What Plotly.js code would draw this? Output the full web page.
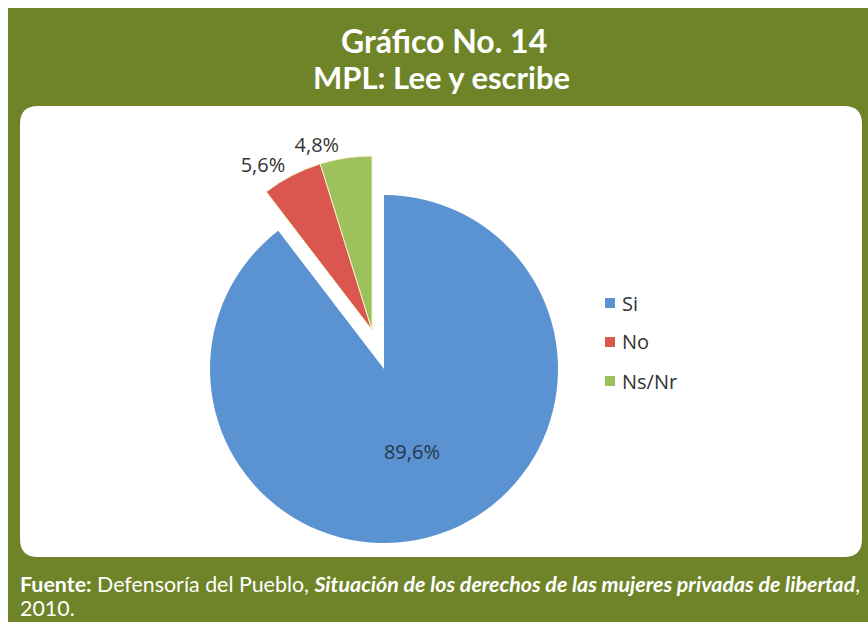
<!DOCTYPE html>
<html>
<head>
<meta charset="utf-8">
<script src="https://cdn.plot.ly/plotly-3.0.1.min.js"></script>
<style>html,body{margin:0;padding:0;background:#fff;}#chart{width:868px;height:622px;}</style>
</head>
<body>
<div id="chart"></div>
<script>
// ---- data ----
var categories = ['Si', 'No', 'Ns/Nr'];
var values = [89.6, 5.6, 4.8];
var colors = ['#5b92d1', '#d9574f', '#9cc15d'];
var titleLines = ['Gráfico No. 14', 'MPL: Lee y escribe'];
var sourceLines = [
  '<b>Fuente:</b> Defensoría del Pueblo, <b><i>Situación de los derechos de las mujeres privadas de libertad</i></b>,',
  '2010.'
];

// ---- layout helpers (pixel -> paper) ----
var W = 868, H = 622;
function px(x) { return x / W; }
function py(y) { return 1 - y / H; }
var CLEAR = 'rgba(0,0,0,0)';

function roundRect(x0, y0, x1, y1, r) {
  var p = [];
  p.push('M ' + px(x0 + r) + ',' + py(y0));
  p.push('L ' + px(x1 - r) + ',' + py(y0));
  p.push('Q ' + px(x1) + ',' + py(y0) + ' ' + px(x1) + ',' + py(y0 + r));
  p.push('L ' + px(x1) + ',' + py(y1 - r));
  p.push('Q ' + px(x1) + ',' + py(y1) + ' ' + px(x1 - r) + ',' + py(y1));
  p.push('L ' + px(x0 + r) + ',' + py(y1));
  p.push('Q ' + px(x0) + ',' + py(y1) + ' ' + px(x0) + ',' + py(y1 - r));
  p.push('L ' + px(x0) + ',' + py(y0 + r));
  p.push('Q ' + px(x0) + ',' + py(y0) + ' ' + px(x0 + r) + ',' + py(y0));
  p.push('Z');
  return p.join(' ');
}

// main pie (Si) and the exploded group (No + Ns/Nr)
var R = 174;
var c1 = [384, 369];
var c2 = [372, 330];
function dom(c) {
  return { x: [px(c[0] - R), px(c[0] + R)], y: [py(c[1] + R), py(c[1] - R)] };
}

var labelFont = { family: 'Open Sans, sans-serif', size: 20, color: '#333333' };

function baseTrace(c) {
  return {
    type: 'pie',
    labels: categories,
    values: values,
    sort: false,
    direction: 'clockwise',
    rotation: 0,
    domain: dom(c),
    hoverinfo: 'skip',
    showlegend: false
  };
}

// Si slice, label inside
var traceMain = baseTrace(c1);
traceMain.marker = { colors: [colors[0], CLEAR, CLEAR], line: { width: 0 } };
traceMain.texttemplate = ['%{percent:.1%}', '', ''];
traceMain.textposition = ['inside', 'none', 'none'];
traceMain.insidetextorientation = 'horizontal';
traceMain.textfont = { family: labelFont.family, size: 20, color: '#25364a' };

// exploded slices, one trace each so their outside labels sit at their natural spot
function explodedTrace(idx) {
  var t = baseTrace(c2);
  var cols = [CLEAR, CLEAR, CLEAR];
  cols[idx] = colors[idx];
  var lw = [0, 0, 0];
  lw[idx] = 1;
  var tt = ['', '', ''];
  tt[idx] = '%{percent:.1%}';
  var tp = ['none', 'none', 'none'];
  tp[idx] = 'outside';
  t.marker = { colors: cols, line: { width: lw, color: '#f4f1c8' } };
  t.texttemplate = tt;
  t.textposition = tp;
  t.outsidetextfont = labelFont;
  t.textfont = labelFont;
  return t;
}

var shapes = [
  { type: 'rect', xref: 'paper', yref: 'paper', x0: px(8), x1: 1, y0: 0, y1: py(8), fillcolor: '#6f8429', line: { width: 0 }, layer: 'below' },
  { type: 'path', xref: 'paper', yref: 'paper', path: roundRect(20, 106, 862, 557, 18), fillcolor: '#ffffff', line: { width: 0 }, layer: 'below' }
];

var footFont = { family: 'Lato, sans-serif', size: 21.4, color: '#ffffff' };
var annotations = [
  { text: '<b>' + titleLines[0] + '</b>', x: px(444), y: py(40), xref: 'paper', yref: 'paper', xanchor: 'center', yanchor: 'middle', showarrow: false, font: { family: 'Lato, sans-serif', size: 32, color: '#ffffff' } },
  { text: '<b>' + titleLines[1] + '</b>', x: px(442), y: py(77), xref: 'paper', yref: 'paper', xanchor: 'center', yanchor: 'middle', showarrow: false, font: { family: 'Lato, sans-serif', size: 31, color: '#ffffff' } },
  { text: sourceLines[0], x: px(18), y: py(584), xref: 'paper', yref: 'paper', xanchor: 'left', yanchor: 'middle', align: 'left', showarrow: false, font: footFont },
  { text: sourceLines[1], x: px(18), y: py(608), xref: 'paper', yref: 'paper', xanchor: 'left', yanchor: 'middle', align: 'left', showarrow: false, font: footFont }
];

// legend (drawn from categories / colors)
var legY = [303, 342, 381];
categories.forEach(function (cat, i) {
  shapes.push({ type: 'rect', xref: 'paper', yref: 'paper', x0: px(605), x1: px(615), y0: py(legY[i] + 5), y1: py(legY[i] - 5), fillcolor: colors[i], line: { width: 0 } });
  annotations.push({ text: cat, x: px(620), y: py(legY[i]), xref: 'paper', yref: 'paper', xanchor: 'left', yanchor: 'middle', showarrow: false, font: labelFont });
});

var layout = {
  width: W, height: H,
  margin: { l: 0, r: 0, t: 0, b: 0 },
  paper_bgcolor: '#ffffff',
  separators: ',.',
  showlegend: false,
  shapes: shapes,
  annotations: annotations
};

Plotly.newPlot('chart', [traceMain, explodedTrace(1), explodedTrace(2)], layout, { displayModeBar: false, staticPlot: true });
</script>
</body>
</html>
